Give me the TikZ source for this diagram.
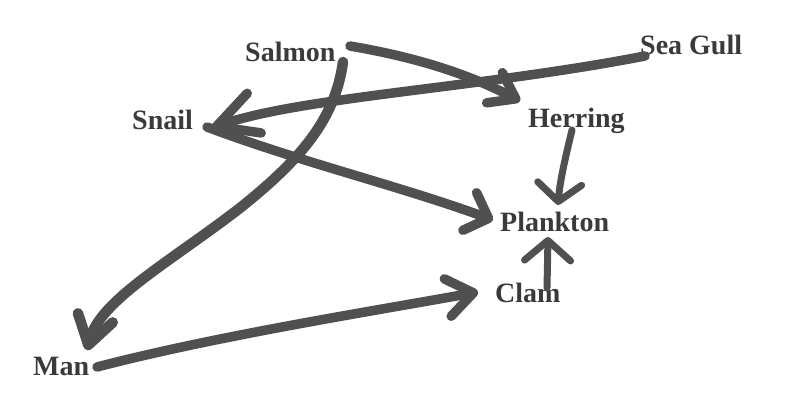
\documentclass[tikz,border=0pt]{standalone}
\usepackage{fontspec}
\setmainfont{Liberation Serif}
\usetikzlibrary{arrows.meta}
\definecolor{ink}{RGB}{80,80,80}
\definecolor{txt}{RGB}{58,58,58}
\begin{document}
\begin{tikzpicture}[x=1pt,y=-1pt,
  species/.style={anchor=base west,inner sep=0pt,text=txt,
    font=\fontsize{28}{30}\selectfont\bfseries},
  feeds/.style 2 args={draw=ink,line width=9.5pt,line cap=round,line join=round,
    -{Straight Barb[length=#1,width=#2,round]}},
  heavy/.style={line width=10.5pt},
  thin/.style={line width=7pt}]

% canvas
\fill[white] (0,0) rectangle (787,398);
\useasboundingbox (0,0) rectangle (787,398);

% organisms
\node[species] (salmon)   at (245,62)  {Salmon};
\node[species] (gull)     at (640,55)  {Sea Gull};
\node[species] (snail)    at (132,130) {Snail};
\node[species] (herring)  at (528,128) {Herring};
\node[species] (plankton) at (500,232) {Plankton};
\node[species] (clam)     at (495,302) {Clam};
\node[species] (man)      at (33,375)  {Man};

% attachment points of the strokes
\coordinate (salmon-r)   at (350,46);
\coordinate (salmon-b)   at (343,62);
\coordinate (gull-w)     at (645,56);
\coordinate (snail-in)   at (212,128);
\coordinate (snail-out)  at (207,127);
\coordinate (herring-in) at (520,101);
\coordinate (herring-b)  at (572,130);
\coordinate (plankton-w) at (493,220);
\coordinate (plankton-n) at (558,205);
\coordinate (plankton-s) at (548,237);
\coordinate (clam-n)     at (547,288);
\coordinate (clam-w)     at (478,292);
\coordinate (man-n)      at (87,350);
\coordinate (man-e)      at (97,367);

% who eats whom
\draw[feeds={24pt}{34pt}] (salmon-r) .. controls (420,58) and (470,75) .. (herring-in);
\draw[feeds={40pt}{42pt}] (gull-w) .. controls (480,88) and (300,97) .. (snail-in);
\draw[feeds={28pt}{36pt},heavy] (salmon-b) .. controls (335,120) and (300,160) .. (240,208)
                                     .. controls (170,262) and (100,300) .. (man-n);
\draw[feeds={20pt}{40pt}] (snail-out) .. controls (300,162) and (400,186) .. (plankton-w);
\draw[feeds={18pt}{44pt},thin] (herring-b) .. controls (566,155) and (560,180) .. (plankton-n);
\draw[feeds={20pt}{46pt},thin] (clam-n) -- (plankton-s);
\draw[feeds={26pt}{38pt}] (man-e) .. controls (220,335) and (380,310) .. (clam-w);
\end{tikzpicture}
\end{document}
